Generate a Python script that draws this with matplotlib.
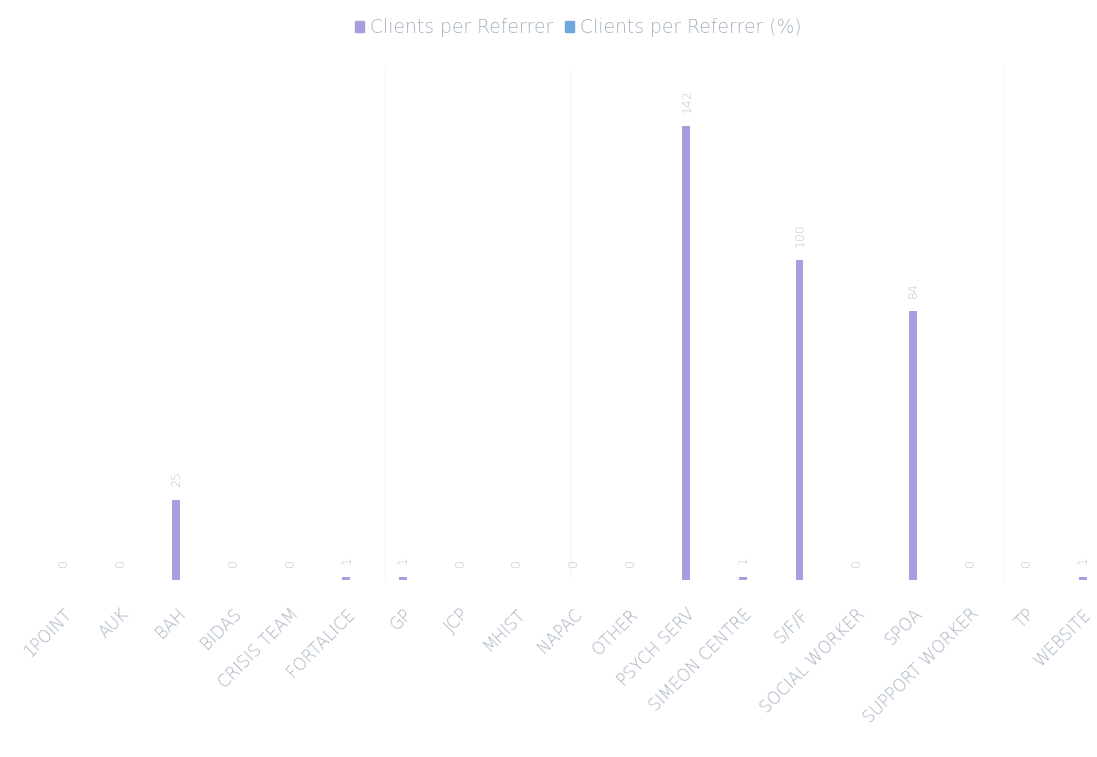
import matplotlib
matplotlib.use("Agg")
import matplotlib.pyplot as plt
from matplotlib.patches import Patch

categories = ["1POINT", "AUK", "BAH", "BIDAS", "CRISIS TEAM", "FORTALICE", "GP", "JCP",
              "MHIST", "NAPAC", "OTHER", "PSYCH SERV", "SIMEON CENTRE", "S/F/F",
              "SOCIAL WORKER", "SPOA", "SUPPORT WORKER", "TP", "WEBSITE"]
clients = [0, 0, 25, 0, 0, 1, 1, 0, 0, 0, 0, 142, 1, 100, 0, 84, 0, 0, 1]
series_names = ["Clients per Referrer", "Clients per Referrer (%)"]

bar_color = "#a99de0"
pct_color = "#6fa6dc"
text_color = "#a6b2c1"

plt.rcParams['font.family'] = ['DejaVu Sans']

fig = plt.figure(figsize=(10.97, 7.57), dpi=100)
ax = fig.add_axes([0, 1 - 580/757, 1, 512/757])

x = list(range(len(categories)))
ax.bar(x, clients, width=0.14, color=bar_color, zorder=3)

for xi, v in zip(x, clients):
    ax.text(xi, v + 4, str(v), rotation=90, ha='center', va='bottom',
            fontsize=9, color="#bcc3cc", fontweight='light')

ax.set_xlim(-1.11, 18.25)
ax.set_ylim(0, 160)
ax.set_yticks([])
ax.set_xticks(x)
ax.set_xticklabels(categories, rotation=45, ha='right', rotation_mode='anchor',
                   fontsize=12, color=text_color, fontweight='light')
ax.tick_params(axis='x', length=0, pad=18)
for s in ax.spines.values():
    s.set_visible(False)
for gx in [5.68, 8.95, 16.6]:
    ax.axvline(gx, color="#f5f5f5", lw=0.8, zorder=0)

handles = [Patch(color=bar_color), Patch(color=pct_color)]
fig.legend(handles, series_names, loc='upper center', bbox_to_anchor=(0.527, 0.998),
           ncol=2, frameon=False, labelcolor=text_color,
           prop={'weight': 'light', 'size': 13.5},
           handlelength=0.5, handleheight=0.5, columnspacing=0.6, handletextpad=0.3)

fig.savefig("out.png", dpi=100, facecolor="white")
